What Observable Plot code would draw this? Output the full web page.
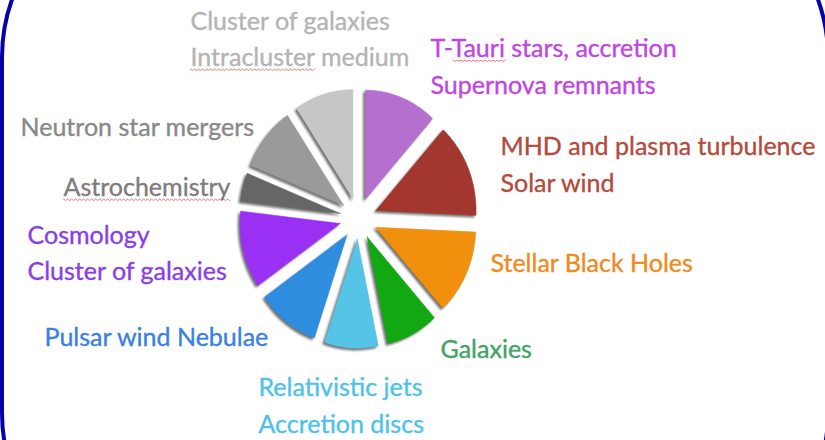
<!DOCTYPE html>
<html><head><meta charset="utf-8">
<script src="https://cdn.jsdelivr.net/npm/d3@7"></script>
<script src="https://cdn.jsdelivr.net/npm/@observablehq/plot@0.6"></script>
<style>
html,body{margin:0;padding:0;background:#fff;overflow:hidden;width:825px;height:440px}
#wrap{position:relative;width:825px;height:440px;overflow:hidden}
#frame{position:absolute;left:0;top:-115px;width:830px;height:700px;box-sizing:border-box;border:4px solid #0800a8;border-radius:172px;pointer-events:none}
.slices path{filter:drop-shadow(-2px 2px 1.2px rgba(0,0,0,0.55))}
</style></head><body><div id="wrap"><div id="chart"></div><div id="frame"></div></div>
<script>
// ---- data ----
const categories = [
  "T-Tauri stars, accretion / Supernova remnants",
  "MHD and plasma turbulence / Solar wind",
  "Stellar Black Holes",
  "Galaxies",
  "Relativistic jets / Accretion discs",
  "Pulsar wind Nebulae",
  "Cosmology / Cluster of galaxies",
  "Astrochemistry",
  "Neutron star mergers",
  "Cluster of galaxies / Intracluster medium"
];
const shares = [42, 50, 45, 30, 31, 36, 41, 15, 34, 34];
const sliceColors = ["#b46fcf", "#a3372f", "#f0900c", "#12a812", "#55c4e6", "#2f8de0", "#9b30f5", "#666666", "#9a9a9a", "#c6c6c6"];

const labelTexts = [
  "Cluster of galaxies", "Intracluster medium",
  "T-Tauri stars, accretion", "Supernova remnants",
  "MHD and plasma turbulence", "Solar wind",
  "Stellar Black Holes",
  "Galaxies",
  "Relativistic jets", "Accretion discs",
  "Pulsar wind Nebulae",
  "Cosmology", "Cluster of galaxies",
  "Astrochemistry",
  "Neutron star mergers"
];
const labelColors = [
  "#b4b4b4", "#b4b4b4",
  "#c046e4", "#c046e4",
  "#b44a3e", "#b44a3e",
  "#f08a1c",
  "#3ea462",
  "#4cc2ea", "#4cc2ea",
  "#3a80e2",
  "#8a3ee8", "#8a3ee8",
  "#7c7c7c",
  "#888888"
];
// words marked by the spell checker (wavy red underline): label index, word
const spellLabel = [1, 2, 13];
const spellWords = ["Intracluster", "Tauri", "Astrochemistry"];

// ---- layout (pixels) ----
const W = 825, H = 440;
const cx = 358, cy = 218, Rx = 100, Ry = 109, explode = 0.19;
const labelPos = [
  [190, 21], [190, 57],
  [430, 48], [430, 85],
  [500, 146], [500, 183],
  [490, 263],
  [440, 349],
  [258, 387], [258, 424],
  [44, 337],
  [27, 235], [27, 271],
  [63, 187],
  [20, 127]
];

const arcs = d3.pie().sort(null).startAngle(0).endAngle(2 * Math.PI)(shares);
const pts = [];
arcs.forEach((a, i) => {
  const mid = (a.startAngle + a.endAngle) / 2;
  const ox = explode * Math.sin(mid), oy = explode * Math.cos(mid);
  const apex = {slice: categories[i], color: sliceColors[i], x: cx + Rx * ox, y: cy - Ry * oy};
  pts.push(apex);
  const n = 60;
  for (let k = 0; k <= n; k++) {
    const t = a.startAngle + (a.endAngle - a.startAngle) * k / n;
    pts.push({slice: categories[i], color: sliceColors[i], x: cx + Rx * (ox + Math.sin(t)), y: cy - Ry * (oy + Math.cos(t))});
  }
  pts.push({...apex});
});

const labels = labelTexts.map((t, i) => ({text: t, color: labelColors[i], x: labelPos[i][0], y: labelPos[i][1]}));

// spell-check underline squiggles, placed from measured text
const FS = 25, FF = "Lato";
const ctx = document.createElement("canvas").getContext("2d");
ctx.font = `${FS}px ${FF}`;
const squig = [];
spellWords.forEach((w, j) => {
  const li = spellLabel[j], full = labelTexts[li];
  const x0 = labelPos[li][0] + ctx.measureText(full.slice(0, full.indexOf(w))).width;
  const x1 = x0 + ctx.measureText(w).width;
  const yb = labelPos[li][1] + 12;
  let k = 0;
  for (let x = x0; x <= x1; x += 2, k++) squig.push({w, x, y: yb + (k % 2 ? 1 : -0.5)});
});

const chart = Plot.plot({
  width: W, height: H,
  margin: 0,
  x: {domain: [0, W], range: [0, W], axis: null},
  y: {domain: [0, H], range: [0, H], axis: null},
  color: {type: "identity"},
  style: {background: "transparent", overflow: "visible"},
  marks: [
    Plot.line(pts, {x: "x", y: "y", z: "slice", fill: "color", stroke: "color", strokeWidth: 0.6, curve: "linear"}),
    Plot.line(squig, {x: "x", y: "y", z: "w", stroke: "#ea7878", strokeWidth: 1, curve: "linear"}),
    Plot.text(labels, {x: "x", y: "y", text: "text", fill: "color", stroke: "color", strokeWidth: 0.35, textAnchor: "start", fontSize: FS, fontFamily: FF})
  ]
});
chart.querySelectorAll('g[aria-label="line"]')[0].classList.add("slices");
document.getElementById("chart").appendChild(chart);
</script>
</body></html>
